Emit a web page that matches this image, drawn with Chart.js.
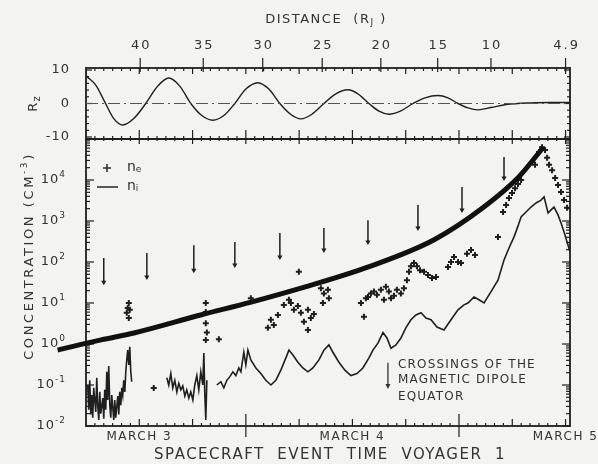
<!DOCTYPE html>
<html lang="en">
<head>
<meta charset="UTF-8">
<title>Voyager 1 - plasma concentration</title>
<script src="https://cdn.jsdelivr.net/npm/chart.js"></script>
<style>
    html, body { margin: 0; padding: 0; background: #f3f3f1; }
    #wrap { width: 598px; height: 464px; }
</style>
</head>
<body>
<div id="wrap"><canvas id="plasmaChart" width="598" height="464"></canvas></div>
<script>
// hours counted from 00:00 on March 3
const dayLabels = ['MARCH 3', 'MARCH 4', 'MARCH 5'];
const dayLabelHours = [12, 36, 60];
const distLabels = ['40', '35', '30', '25', '20', '15', '10', '4.9'];
const distHours = [12.1, 19.2, 25.9, 32.6, 39.2, 45.6, 51.6, 60.0];
const rzTicks = [10, 0, -10];
const concTicks = [1e4, 1e3, 1e2, 1e1, 1e0, 1e-1, 1e-2];
const concExps = ['4', '3', '2', '1', '0', '-1', '-2'];

// R_z (top panel)
const rzHours = [6.08, 7.10, 8.11, 9.13, 10.14, 11.38, 12.73, 14.08, 15.32, 16.56, 17.80, 19.04, 20.28,
    21.52, 22.76, 24.0, 25.35, 26.59, 27.83, 29.07, 30.20, 31.44, 32.79, 34.14, 35.49, 36.62, 37.86,
    38.99, 40.11, 41.46, 42.82, 44.17, 45.63, 46.76, 47.89, 49.01, 50.14, 51.61, 53.30, 56.11, 58.37, 60.5];
const rzValues = [8.1, 5.5, 0.5, -4.5, -6.4, -4.5, 0, 5.2, 7.6, 5.2, 0, -3.6, -5.0,
    -3.6, 0, 4.3, 6.2, 4.3, 0, -3.3, -4.6, -3.2, 0, 2.9, 4.1, 2.9, 0,
    -2.3, -3.2, -2.2, 0, 1.7, 2.4, 1.7, 0, -1.3, -1.9, -1.2, -0.3, 0.2, 0.3, 0.3];

// n_i (thin line), null = data gap
const niHours = [6.20, 6.31, 6.42, 6.54, 6.65, 6.76, 6.87, 7.10, 7.21, 7.32, 7.44, 7.55, 7.66, 7.89, 8.00,
    8.11, 8.23, 8.34, 8.45, 8.56, 8.68, 8.79, 8.90, 9.13, 9.24, 9.35, 9.58, 9.69, 9.80, 9.92, 10.03, 10.14,
    10.25, 10.37, 10.48, 10.59, 10.70, 10.82, 10.93, 11.04, 11.15, 13.0,
    15.10, 15.32, 15.55, 15.77, 16.00, 16.23, 16.45, 16.68, 16.90, 17.13, 17.35, 17.58, 17.80, 18.03,
    18.25, 18.48, 18.70, 18.93, 19.15, 19.27, 19.38, 19.49, 19.61, 20.2,
    20.73, 21.18, 21.52, 21.86, 22.20, 22.54, 22.87, 23.21, 23.44, 23.77, 24.00, 24.23, 24.56, 25.13,
    25.69, 26.25, 26.82, 27.38, 27.94, 28.51, 28.85, 29.30, 29.86, 30.42, 30.99, 31.55, 32.23, 32.79,
    33.35, 33.80, 34.48, 35.15, 35.83, 36.51, 37.18, 37.86, 38.31, 38.87, 39.44, 39.89, 40.34, 40.90,
    41.46, 42.03, 42.59, 43.15, 43.72, 44.28, 44.85, 45.52, 46.31, 47.10, 47.89, 48.56, 49.01, 49.69,
    50.25, 50.82, 51.61, 52.39, 53.07, 53.63, 54.20, 54.65, 54.99, 55.55, 56.11, 56.68, 57.24, 57.58,
    58.03, 58.37, 58.70, 59.15, 59.49, 59.83, 60.28, 60.50];
const niValues = [0.10, 0.025, 0.13, 0.019, 0.057, 0.016, 0.085, 0.022, 0.15, 0.032, 0.014, 0.068, 0.020, 0.048, 0.015,
    0.076, 0.025, 0.21, 0.043, 0.29, 0.032, 0.016, 0.057, 0.014, 0.043, 0.016, 0.054, 0.019, 0.068, 0.032, 0.085, 0.057,
    0.13, 0.068, 0.21, 0.41, 0.71, 0.31, 0.85, 0.21, 0.12, null,
    0.15, 0.10, 0.19, 0.085, 0.13, 0.068, 0.11, 0.076, 0.095, 0.054, 0.076, 0.048, 0.068, 0.043,
    0.10, 0.17, 0.076, 0.21, 0.10, 0.60, 0.057, 0.014, 0.13, null,
    0.10, 0.12, 0.085, 0.13, 0.16, 0.21, 0.17, 0.26, 0.21, 0.63, 0.31, 0.71, 0.41, 0.26,
    0.19, 0.13, 0.10, 0.13, 0.23, 0.46, 0.71, 0.54, 0.36, 0.26, 0.21, 0.26, 0.41, 0.71,
    0.95, 0.63, 0.36, 0.23, 0.17, 0.19, 0.26, 0.46, 0.71, 1.05, 1.9, 1.4, 0.79, 0.95,
    1.4, 2.5, 3.9, 5.1, 5.8, 4.3, 3.9, 2.6, 2.2, 3.9, 6.8, 9.0, 10, 14,
    12, 10, 19, 36, 112, 220, 410, 760, 1260, 1660, 2190, 2750, 3240, 3890,
    1580, 1860, 2190, 1410, 890, 540, 257, 174];

// n_e (plus markers)
const neHours = [10.59, 10.70, 10.82, 10.82, 10.93, 13.63, 19.49, 19.49, 19.49, 19.61, 19.49, 20.96, 24.56,
    26.48, 26.82, 27.15, 27.61, 28.28, 28.85, 29.07, 29.41, 29.86, 30.20, 30.54, 30.99, 30.99, 31.32, 31.66,
    29.97, 32.45, 32.79, 32.68, 33.24, 33.35, 36.96, 37.30, 37.52, 37.75, 38.08, 38.42, 38.76, 39.21, 39.55,
    39.77, 40.11, 40.34, 40.68, 41.01, 41.46, 41.80, 42.14, 42.37, 42.59, 42.93, 43.27, 43.61, 44.06, 44.51,
    44.96, 45.41, 46.76, 47.10, 47.44, 47.89, 48.23, 48.90, 49.35, 49.80, 52.39, 52.96, 53.30, 53.63, 53.97,
    54.31, 54.65, 54.99, 56.56, 57.01, 57.35, 57.69, 57.92, 58.14, 58.48, 58.82, 59.15, 59.49, 59.83, 60.17];
const neValues = [5.8, 7.6, 10, 4.3, 6.8, 0.085, 10, 6.0, 3.2, 1.9, 1.26, 1.3, 13,
    2.5, 3.9, 2.9, 5.1, 9.0, 12, 10, 6.8, 8.4, 5.8, 3.5, 6.8, 2.2, 4.3, 5.4,
    58, 23, 17, 10, 21, 13, 10, 4.6, 13, 14, 17, 19, 16, 21, 12,
    25, 19, 13, 15, 21, 17, 23, 36, 58, 79, 95, 79, 63, 58, 48,
    41, 43, 76, 100, 132, 100, 95, 158, 195, 148, 407, 1660, 2450, 3630, 4790,
    6310, 7940, 10000, 23400, 47900, 63000, 53700, 34700, 23400, 17400, 11200, 7590, 5130, 3240, 2090];

// crossings of the magnetic dipole equator (arrows)
const crossHours = [8.0, 12.85, 18.14, 22.76, 27.83, 32.79, 37.75, 43.38, 48.34, 53.07];
const crossTop = [126, 166, 257, 309, 513, 676, 1050, 2450, 6760, 36300];
const crossTip = [32, 43, 63, 85, 132, 195, 309, 676, 1860, 11200];

// hand-drawn thick trend curve
const trendHours = [2.8, 7.7, 11.4, 18.9, 24.6, 30.2, 37.8, 45.2, 50.8, 54.7, 57.5];
const trendValues = [0.71, 1.26, 1.86, 5.1, 10.5, 23, 76, 350, 2200, 11700, 63000];

const ink = '#1f1f1f';
const textInk = '#333';
const face = '"DejaVu Sans", sans-serif';

function pairs(xs, ys) {
    return xs.map((x, i) => ({ x: x, y: ys[i] }));
}

function rich(ctx, parts, x, y, align) {
    let w = 0;
    parts.forEach(p => { ctx.font = p[1] + 'px ' + face; w += ctx.measureText(p[0]).width; });
    let cx = align === 'center' ? x - w / 2 : (align === 'right' ? x - w : x);
    ctx.textAlign = 'left';
    parts.forEach(p => {
        ctx.font = p[1] + 'px ' + face;
        ctx.fillText(p[0], cx, y + (p[2] || 0));
        cx += ctx.measureText(p[0]).width;
    });
}

function seg(ctx, x1, y1, x2, y2) {
    ctx.beginPath();
    ctx.moveTo(x1, y1);
    ctx.lineTo(x2, y2);
    ctx.stroke();
}

const framePlugin = {
    id: 'frame',
    beforeDatasetsDraw(chart) {
        const { ctx, chartArea: a } = chart;
        const x = chart.scales.x, yTop = chart.scales.yTop, yBot = chart.scales.yBot;
        ctx.save();
        ctx.strokeStyle = ink;
        ctx.lineWidth = 1.8;
        ctx.strokeRect(a.left, yTop.top, a.right - a.left, yTop.bottom - yTop.top);
        ctx.strokeRect(a.left, yBot.top, a.right - a.left, yBot.bottom - yBot.top);

        ctx.lineWidth = 1.2;
        // time ticks
        for (let h = 7; h <= 60; h++) {
            const px = x.getPixelForValue(h);
            const big = h % 24 === 0, mid = h % 6 === 0;
            const len = big ? 12 : (mid ? 7 : 3);
            seg(ctx, px, yBot.bottom, px, yBot.bottom - len);
            if (big) seg(ctx, px, yBot.bottom, px, yBot.bottom + 11);
            seg(ctx, px, yTop.top, px, yTop.top + (mid ? 6 : 3));
            seg(ctx, px, yTop.bottom, px, yTop.bottom - (mid ? 9 : 3));
            seg(ctx, px, yBot.top, px, yBot.top + (mid ? 5 : 2));
        }
        // distance ticks
        distHours.forEach(h => {
            const px = x.getPixelForValue(h);
            seg(ctx, px, yTop.top - 10, px, yTop.top + 4);
        });
        // R_z ticks
        for (let v = -10; v <= 10; v += 2) {
            const py = yTop.getPixelForValue(v);
            const len = v % 10 === 0 ? 6 : 3;
            seg(ctx, a.left, py, a.left + len, py);
            seg(ctx, a.right, py, a.right - len, py);
        }
        // log ticks
        for (let e = -2; e < 5; e++) {
            for (let m = 1; m < 10; m++) {
                const py = yBot.getPixelForValue(m * Math.pow(10, e));
                const len = m === 1 ? 8 : 4;
                seg(ctx, a.left, py, a.left + len, py);
                seg(ctx, a.right, py, a.right - len, py);
            }
        }
        ctx.restore();
    },
    afterDraw(chart) {
        const { ctx, chartArea: a } = chart;
        const x = chart.scales.x, yTop = chart.scales.yTop, yBot = chart.scales.yBot;
        ctx.save();
        ctx.fillStyle = textInk;
        ctx.strokeStyle = textInk;
        ctx.textBaseline = 'middle';

        // top title and distance labels
        ctx.letterSpacing = '1.5px';
        rich(ctx, [['DISTANCE  (R', 13], ['J', 9, 3], [' )', 13]], 326, 20, 'center');
        ctx.letterSpacing = '2px';
        distLabels.forEach((t, i) => rich(ctx, [[t, 13]], x.getPixelForValue(distHours[i]) + 1, 46, 'center'));

        // y labels
        ctx.letterSpacing = '1px';
        rzTicks.forEach(v => rich(ctx, [[String(v), 13]], a.left - 16, yTop.getPixelForValue(v), 'right'));
        concTicks.forEach((v, i) => rich(ctx, [['10', 13], [concExps[i], 9, -5]], a.left - 20, yBot.getPixelForValue(v), 'right'));

        // rotated axis titles
        ctx.save();
        ctx.translate(34, yTop.getPixelForValue(0));
        ctx.rotate(-Math.PI / 2);
        rich(ctx, [['R', 13], ['z', 10, 3]], 0, 0, 'center');
        ctx.restore();
        ctx.save();
        ctx.translate(30, 256);
        ctx.rotate(-Math.PI / 2);
        ctx.letterSpacing = '2.6px';
        rich(ctx, [['CONCENTRATION (CM', 13], ['-3', 9, -5], [')', 13]], 0, 0, 'center');
        ctx.restore();

        // day labels and x title
        ctx.letterSpacing = '1.5px';
        dayLabels.forEach((t, i) => rich(ctx, [[t, 12]], x.getPixelForValue(dayLabelHours[i]), 437, 'center'));
        rich(ctx, [['SPACECRAFT  EVENT  TIME  VOYAGER  1', 15]], (a.left + a.right) / 2 + 2, 455, 'center');

        // legend
        ctx.letterSpacing = '0px';
        ctx.lineWidth = 1.6;
        seg(ctx, 103, 168, 111, 168);
        seg(ctx, 107, 164, 107, 172);
        rich(ctx, [['n', 14], ['e', 9, 3]], 127, 167, 'left');
        seg(ctx, 97, 187, 118, 187);
        rich(ctx, [['n', 14], ['i', 9, 3]], 127, 186, 'left');

        // crossing key
        const kx = x.getPixelForValue(40.0);
        const ky1 = yBot.getPixelForValue(0.35), ky2 = yBot.getPixelForValue(0.085);
        ctx.lineWidth = 1.3;
        seg(ctx, kx, ky1, kx, ky2 - 3);
        ctx.beginPath();
        ctx.moveTo(kx - 2.5, ky2 - 4);
        ctx.lineTo(kx + 2.5, ky2 - 4);
        ctx.lineTo(kx, ky2 + 1);
        ctx.closePath();
        ctx.fill();
        ctx.letterSpacing = '1.2px';
        rich(ctx, [['CROSSINGS OF THE', 12]], kx + 10, ky1 + 2, 'left');
        rich(ctx, [['MAGNETIC DIPOLE', 12]], kx + 10, ky1 + 17, 'left');
        rich(ctx, [['EQUATOR', 12]], kx + 10, ky1 + 34, 'left');
        ctx.restore();
    }
};

const arrowShafts = [];
crossHours.forEach((h, i) => {
    arrowShafts.push({ x: h, y: crossTop[i] }, { x: h, y: crossTip[i] }, { x: h, y: null });
});

new Chart(document.getElementById('plasmaChart'), {
    type: 'line',
    data: {
        datasets: [
            {
                label: 'trend',
                data: pairs(trendHours, trendValues),
                yAxisID: 'yBot',
                borderColor: '#111',
                borderWidth: 5,
                cubicInterpolationMode: 'monotone',
                pointRadius: 0,
                clip: false
            },
            {
                label: 'arrow heads',
                data: pairs(crossHours, crossTip),
                yAxisID: 'yBot',
                showLine: false,
                pointStyle: 'triangle',
                rotation: 180,
                pointRadius: 3,
                backgroundColor: ink,
                borderColor: ink,
                borderWidth: 0
            },
            {
                label: 'arrows',
                data: arrowShafts,
                yAxisID: 'yBot',
                borderColor: ink,
                borderWidth: 1.5,
                pointRadius: 0,
                spanGaps: false
            },
            {
                label: 'n_e',
                data: pairs(neHours, neValues),
                yAxisID: 'yBot',
                showLine: false,
                pointStyle: 'cross',
                pointRadius: 3,
                pointBorderWidth: 2,
                borderColor: ink
            },
            {
                label: 'n_i',
                data: pairs(niHours, niValues),
                yAxisID: 'yBot',
                borderColor: ink,
                borderWidth: 1.6,
                pointRadius: 0,
                spanGaps: false
            },
            {
                label: 'zero',
                data: pairs([6, 60.5], [0, 0]),
                yAxisID: 'yTop',
                borderColor: '#555',
                borderWidth: 1,
                borderDash: [12, 4, 2, 4],
                pointRadius: 0
            },
            {
                label: 'R_z',
                data: pairs(rzHours, rzValues),
                yAxisID: 'yTop',
                borderColor: ink,
                borderWidth: 1.4,
                cubicInterpolationMode: 'monotone',
                pointRadius: 0
            }
        ]
    },
    options: {
        responsive: false,
        animation: false,
        layout: { padding: { left: 86, right: 28, top: 68, bottom: 38 } },
        plugins: { legend: { display: false }, tooltip: { enabled: false } },
        scales: {
            x: { type: 'linear', min: 6, max: 60.5, display: false },
            yBot: { type: 'logarithmic', min: 0.01, max: 1e5, display: false, position: 'left',
                    stack: 'panels', stackWeight: 287, weight: 1 },
            yTop: { type: 'linear', min: -10.6, max: 10.6, display: false, position: 'left',
                    stack: 'panels', stackWeight: 71, weight: 2 }
        }
    },
    plugins: [framePlugin]
});
</script>
</body>
</html>
